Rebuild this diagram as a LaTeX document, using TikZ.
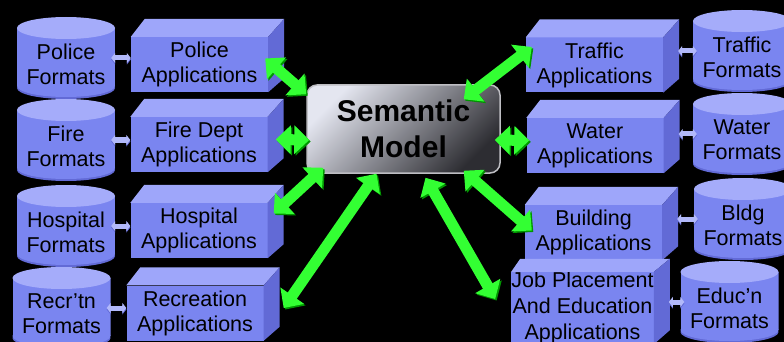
\documentclass[tikz,border=0pt]{standalone}
\usepackage{fontspec}
\setmainfont{Liberation Sans}
\usetikzlibrary{arrows.meta,calc}
\definecolor{appfront}{RGB}{122,133,240}
\definecolor{apptop}{RGB}{158,166,250}
\definecolor{appside}{RGB}{98,106,214}
\definecolor{cylbody}{RGB}{122,133,240}
\definecolor{cylend}{RGB}{165,172,250}
\definecolor{linkblue}{RGB}{178,185,250}
\definecolor{flowgreen}{RGB}{51,255,51}
\definecolor{flowshade}{RGB}{0,150,0}
\definecolor{modeltop}{RGB}{228,230,240}
\definecolor{modelbot}{RGB}{45,45,50}
\definecolor{modelrim}{RGB}{190,190,195}
\tikzset{
  fmt/.style={rectangle, minimum width=98pt, minimum height=94pt,
    inner sep=0pt, align=center,
    path picture={
      \fill[appside] ($(path picture bounding box.north)+(0,71)$)
        ellipse[x radius=49, y radius=11];
      \fill[cylbody] ($(path picture bounding box.north west)+(0,11)$)
        rectangle ($(path picture bounding box.north east)+(0,69)$);
      \fill[cylbody] ($(path picture bounding box.north)+(0,69)$)
        ellipse[x radius=49, y radius=11];
      \fill[cylend] ($(path picture bounding box.north)+(0,11)$)
        ellipse[x radius=49, y radius=11];
    }},
  app/.style={rectangle, fill=appfront, minimum width=137pt,
    minimum height=55pt, inner sep=0pt, align=center},
  link/.style={draw=linkblue, line width=5pt, transform canvas={yshift=6pt},
    {Triangle[length=4pt,width=10pt]}-{Triangle[length=4pt,width=10pt]},
    preaction={draw=appside, transform canvas={yshift=4.5pt}}},
  flow/.style={draw=flowgreen, line width=11pt,
    {Triangle[length=15pt,width=28pt]}-{Triangle[length=15pt,width=28pt]},
    preaction={draw=flowshade, transform canvas={xshift=1.5pt,yshift=-1.5pt}}},
  model/.style={rounded corners=10pt, draw=modelrim, line width=1.5pt,
    top color=modeltop, bottom color=modelbot, shading angle=45,
    minimum width=193pt, minimum height=88pt, align=center,
    font=\bfseries\fontsize{30}{36}\selectfont}
}
\begin{document}
\begin{tikzpicture}[x=1pt, y=-1pt, font=\fontsize{21.5}{25}\selectfont]
\useasboundingbox (0,0) rectangle (784,342);
\fill[black] (0,0) rectangle (784,342);

% formats
\node[fmt] (polf) at (66,64) {Police\\Formats};
\node[fmt] (firef) at (66,146) {Fire\\Formats};
\node[fmt] (hospf) at (66,232) {Hospital\\Formats};
\node[fmt] (recf) at (61.5,314) {Recr’tn\\Formats};
\node[fmt] (trff) at (742,57) {Traffic\\Formats};
\node[fmt] (watf) at (742,140) {Water\\Formats};
\node[fmt] (bldf) at (743,225) {Bldg\\Formats};
\node[fmt] (eduf) at (729.5,308) {Educ’n\\Formats};

% applications
\node[app] (pola) at (199.5,64.5) {Police\\Applications};
\node[app] (firea) at (199,144.5) {Fire Dept\\Applications};
\node[app] (hospa) at (199,230.5) {Hospital\\Applications};
\node[app] (reca) at (195,313) {Recreation\\Applications};
\node[app] (trafa) at (594.5,65) {Traffic\\Applications};
\node[app] (watera) at (595,145.5) {Water\\Applications};
\node[app] (blda) at (593.5,232.5) {Building\\Applications};
\node[app, minimum width=139pt, minimum height=62pt] (joba) at (582.5,308)
  {Job Placement\\[1pt]And Education\\[1pt]Applications};
\foreach \b/\d in {pola/18,firea/18,hospa/18,reca/18,trafa/18,watera/18,blda/18,joba/13} {
  \fill[apptop] (\b.north west) -- ([shift={(\d-4,-\d)}]\b.north west)
    -- ([shift={(16,-\d)}]\b.north east) -- (\b.north east) -- cycle;
  \fill[appside] (\b.north east) -- ([shift={(16,-\d)}]\b.north east)
    -- ([shift={(16,-14)}]\b.south east) -- (\b.south east) -- cycle;
}

% format links
\draw[link, shorten <=-4pt] (polf.east) -- (polf.east -| pola.west);
\draw[link, shorten <=-4pt] (firef.east) -- (firef.east -| firea.west);
\draw[link, shorten <=-4pt] (hospf.east) -- (hospf.east -| hospa.west);
\draw[link, shorten <=-4pt] (recf.east) -- (recf.east -| reca.west);
\draw[link, shorten <=15pt, shorten >=-4pt] (trff.west -| trafa.east) -- (trff.west);
\draw[link, shorten <=15pt, shorten >=-4pt] (watf.west -| watera.east) -- (watf.west);
\draw[link, shorten <=15pt, shorten >=-4pt] (bldf.west -| blda.east) -- (bldf.west);
\draw[link, shorten <=15pt, shorten >=-4pt] (eduf.west -| joba.east) -- (eduf.west);

\node[model] (sm) at (403.5,129) {Semantic\\Model};

% model links
\draw[flow] ($(pola.east)+(-3,-6)$) -- ($(sm.north west)+(0,10)$);
\draw[flow] ($(firea.east)+(8,-5)$) -- ($(sm.west)+(3,11)$);
\draw[flow] ($(hospa.east)+(6,-17)$) -- ($(sm.south west)+(17,-6)$);
\draw[flow] ($(reca.east)+(20,-5)$) -- ($(sm.south)+(-27,0)$);
\draw[flow] ($(sm.north east)+(-37,15)$) -- ($(trafa.west)+(6,-18)$);
\draw[flow] ($(sm.east)+(-6,11)$) -- ($(watera.west)+(3,-5)$);
\draw[flow] ($(sm.south east)+(-37,-3)$) -- ($(blda.west)+(7,-2)$);
\draw[flow] ($(sm.south)+(22,4)$) -- ($(joba.west)+(-16,-9)$);
\end{tikzpicture}
\end{document}
